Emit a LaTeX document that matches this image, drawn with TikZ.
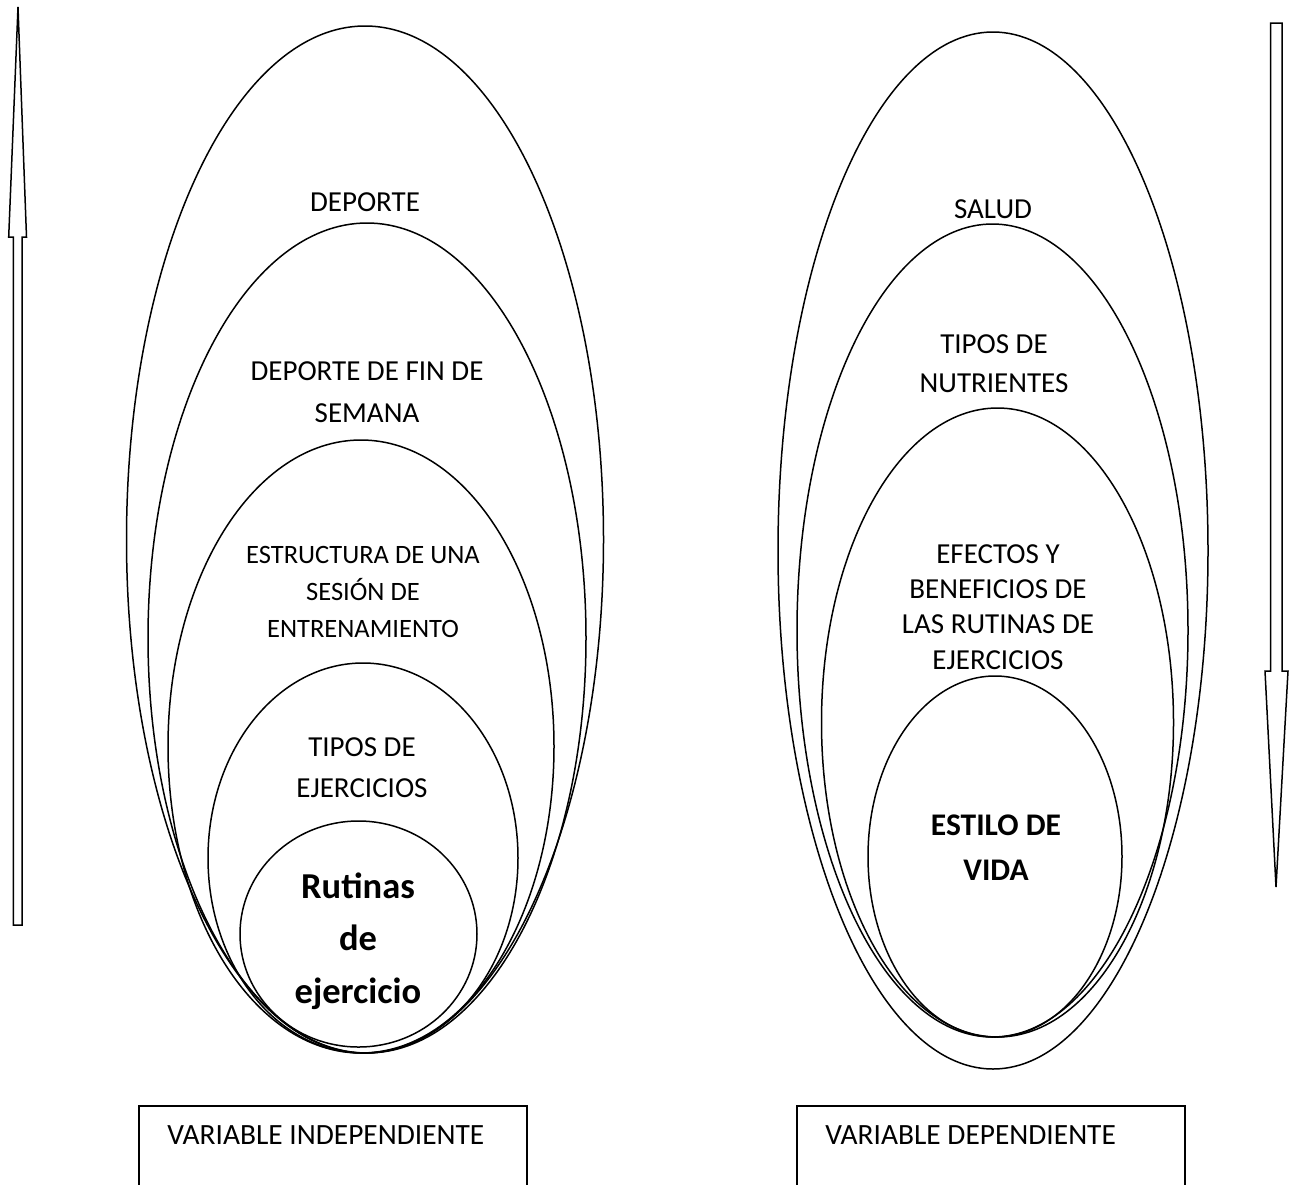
\documentclass[tikz,border=0pt]{standalone}
\usepackage{fontspec}
\setmainfont{Carlito}
\begin{document}
\begin{tikzpicture}[x=0.5pt,y=-0.5pt,
  outline/.style={draw=black,line width=0.75pt},
  lbl/.style={inner sep=0pt,align=center,anchor=base},
  lblA/.style={lbl,font=\fontsize{14.5}{21}\selectfont},
  lblB/.style={lbl,font=\fontsize{13.25}{18.5}\selectfont},
  lblC/.style={lbl,font=\fontsize{14.5}{20.5}\selectfont},
  lblD/.style={lbl,font=\fontsize{18.25}{26.25}\selectfont\bfseries},
  lblE/.style={lbl,font=\fontsize{14.5}{19.5}\selectfont},
  lblF/.style={lbl,font=\fontsize{14.5}{17.65}\selectfont},
  lblG/.style={lbl,font=\fontsize{15.75}{22.5}\selectfont\bfseries},
  boxtext/.style={inner sep=0pt,anchor=base west,font=\fontsize{14.7}{17}\selectfont}]
\useasboundingbox (0,0) rectangle (1296,1184);

% left hollow arrow (up)
\draw[outline,line join=miter] (18,7) -- (26.5,237) -- (22,237) -- (22,925) -- (13.3,925) -- (13.3,237) -- (8.7,237) -- cycle;
% right hollow arrow (down)
\draw[outline,line join=miter] (1270.7,23) -- (1282,23) -- (1282,671) -- (1288,671) -- (1276,887) -- (1265,671) -- (1270.7,671) -- cycle;

% left nested ellipses
\draw[outline] (365,539.5) ellipse [x radius=238.5, y radius=513.5];
\draw[outline] (367,638) ellipse [x radius=219, y radius=415];
\draw[outline] (361,746.5) ellipse [x radius=193, y radius=306.5];
\draw[outline] (363,858) ellipse [x radius=155, y radius=195];
\draw[outline] (358.5,934) ellipse [x radius=118.5, y radius=113];

% right nested ellipses
\draw[outline] (993,550.5) ellipse [x radius=215, y radius=518.5];
\draw[outline] (992.5,630.5) ellipse [x radius=195.5, y radius=406.5];
\draw[outline] (997.5,722.5) ellipse [x radius=176, y radius=314.5];
\draw[outline] (995,856.5) ellipse [x radius=127, y radius=180.5];

% left labels (anchor = baseline of the last line)
\node[lblA] (deporte) at (365,211) {DEPORTE};
\node[lblA] (finsemana) at (367,422) {DEPORTE DE FIN DE\\SEMANA};
\node[lblB] (estructura) at (363,637) {ESTRUCTURA DE UNA\\SESIÓN DE\\ENTRENAMIENTO};
\node[lblC] (tiposej) at (362,797) {TIPOS DE\\EJERCICIOS};
\node[lblD] (rutinas) at (358,1003) {Rutinas\\de\\ejercicio};

% right labels
\node[lblA] (salud) at (993,218) {SALUD};
\node[lblE] (nutrientes) at (994,392) {TIPOS DE\\NUTRIENTES};
\node[lblF] (efectos) at (998,669) {EFECTOS Y\\BENEFICIOS DE\\LAS RUTINAS DE\\EJERCICIOS};
\node[lblG] (estilo) at (996,880) {ESTILO DE\\VIDA};

% bottom boxes
\draw[outline] (139,1190) -- (139,1106) -- (527,1106) -- (527,1190);
\node[boxtext] (vind) at (167,1144) {VARIABLE INDEPENDIENTE};
\draw[outline] (797,1190) -- (797,1106) -- (1185,1106) -- (1185,1190);
\node[boxtext] (vdep) at (825,1144) {VARIABLE DEPENDIENTE};
\end{tikzpicture}
\end{document}
